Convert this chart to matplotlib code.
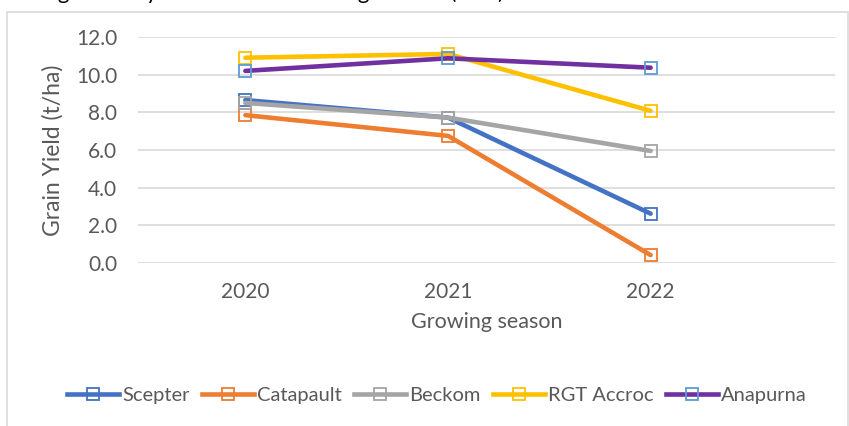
import matplotlib
matplotlib.use("Agg")
import matplotlib.pyplot as plt
from matplotlib.patches import Rectangle
from matplotlib.lines import Line2D

seasons = ["2020", "2021", "2022"]
varieties = ["Scepter", "Catapault", "Beckom", "RGT Accroc", "Anapurna"]
scepter = [8.65, 7.72, 2.62]
catapault = [7.85, 6.75, 0.42]
beckom = [8.5, 7.72, 5.95]
rgt_accroc = [10.9, 11.1, 8.08]
anapurna = [10.2, 10.87, 10.37]
yields = [scepter, catapault, beckom, rgt_accroc, anapurna]

line_colors = ["#4472C4", "#ED7D31", "#A5A5A5", "#FFC000", "#7030A0"]
marker_colors = ["#4472C4", "#ED7D31", "#A5A5A5", "#FFC000", "#5B9BD5"]

plt.rcParams["font.family"] = ["Lato", "DejaVu Sans"]
text_color = "#595959"

fig = plt.figure(figsize=(8.49, 4.26), dpi=100)

# chart border
fig.patches.append(Rectangle((7 / 849, -0.1), 841 / 849, 1.1 - 12 / 426,
                             transform=fig.transFigure, fill=False,
                             edgecolor="#D9D9D9", linewidth=1.2))

# title, only its descenders show at the top of the picture
fig.text(0.0, 1 + 1 / 426, "Average Grain yield for Each Growing Season (t/ha)",
         fontsize=16, color="black", ha="left", va="baseline")

ax = fig.add_axes([138 / 849, 1 - 263 / 426, 697 / 849, 226 / 426])
x = list(range(len(seasons)))
for vals, name, lc, mc in zip(yields, varieties, line_colors, marker_colors):
    ax.plot(x, vals, color=lc, linewidth=3.3, solid_capstyle="round",
            marker="s", markersize=9, markerfacecolor="none",
            markeredgecolor=mc, markeredgewidth=1.3, label=name, zorder=3)

ax.set_ylim(0, 12)
ax.set_xlim(-0.53, 2.91)
ax.set_yticks([0, 2, 4, 6, 8, 10, 12])
ax.set_yticklabels([f"{v:.1f}" for v in [0, 2, 4, 6, 8, 10, 12]])
ax.set_xticks(x)
ax.set_xticklabels(seasons)
ax.grid(axis="y", color="#D9D9D9", linewidth=1.2)
ax.set_axisbelow(True)
for s in ax.spines.values():
    s.set_visible(False)
ax.tick_params(length=0, labelsize=15, colors=text_color)
ax.tick_params(axis="y", pad=15)
ax.tick_params(axis="x", pad=14)
ax.set_ylabel("Grain Yield (t/ha)", fontsize=16.5, color=text_color, labelpad=9)
ax.set_xlabel("Growing season", fontsize=15.5, color=text_color, labelpad=7)

handles = [Line2D([0], [0], color=lc, linewidth=3.3, marker="s", markersize=9,
                  markerfacecolor="none", markeredgecolor=mc,
                  markeredgewidth=1.3)
           for lc, mc in zip(line_colors, marker_colors)]
leg = fig.legend(handles, varieties, loc="center",
                 bbox_to_anchor=(437 / 849, 1 - 395 / 426),
                 ncol=5, frameon=False, fontsize=14.5, handlelength=2.6,
                 handletextpad=0.15, columnspacing=0.6)
for t in leg.get_texts():
    t.set_color(text_color)

fig.savefig("out.png", dpi=100)
